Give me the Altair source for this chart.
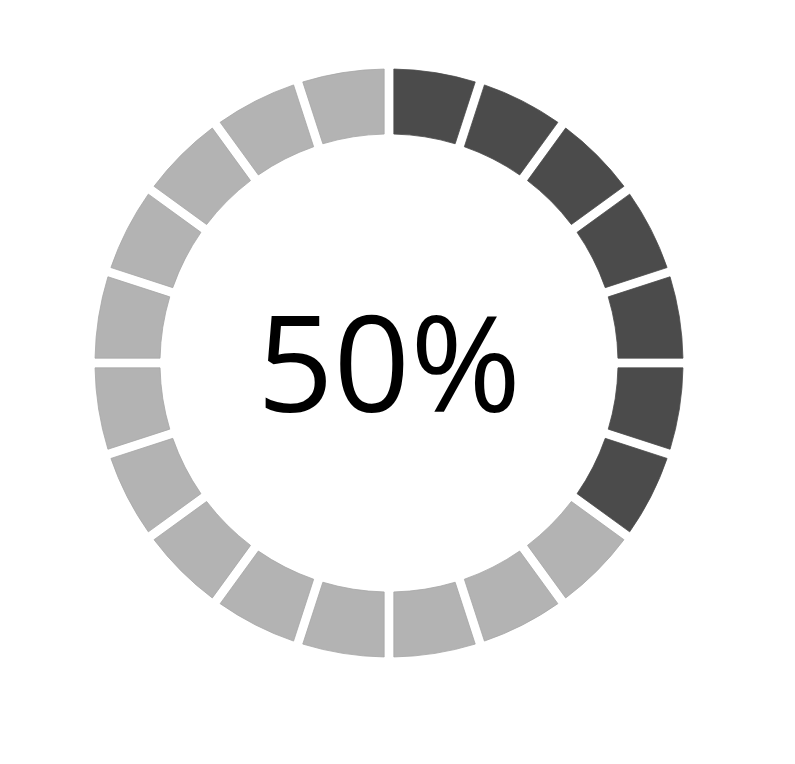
import altair as alt
import pandas as pd

segment = list(range(1, 21))
status = ["done"] * 7 + ["todo"] * 13
share = [1] * 20
label = ["50%"]

df = pd.DataFrame({"segment": segment, "status": status, "share": share})

arcs = alt.Chart(df).mark_arc(
    radius=294, radius2=229, padAngle=0.026, strokeWidth=0.8
).encode(
    theta=alt.Theta("share:Q", stack=True),
    order=alt.Order("segment:Q"),
    color=alt.Color("status:N", scale=alt.Scale(domain=["done", "todo"], range=["#4b4b4b", "#b3b3b3"]), legend=None),
    stroke=alt.Stroke("status:N", scale=alt.Scale(domain=["done", "todo"], range=["#4b4b4b", "#a6a6a6"]), legend=None),
    x=alt.value(389),
    y=alt.value(363),
)

text = alt.Chart(pd.DataFrame({"label": label})).mark_text(
    font="Open Sans", fontSize=134, color="#000000", align="center", baseline="alphabetic"
).encode(
    text="label:N",
    x=alt.value(389),
    y=alt.value(412),
)

chart = alt.layer(arcs, text).properties(
    width=795, height=764, padding=0, background="white",
    autosize=alt.AutoSizeParams(type="none")
).configure_view(stroke=None, strokeWidth=0)

chart.save("out.html", embed_options={"renderer": "svg", "actions": False})
